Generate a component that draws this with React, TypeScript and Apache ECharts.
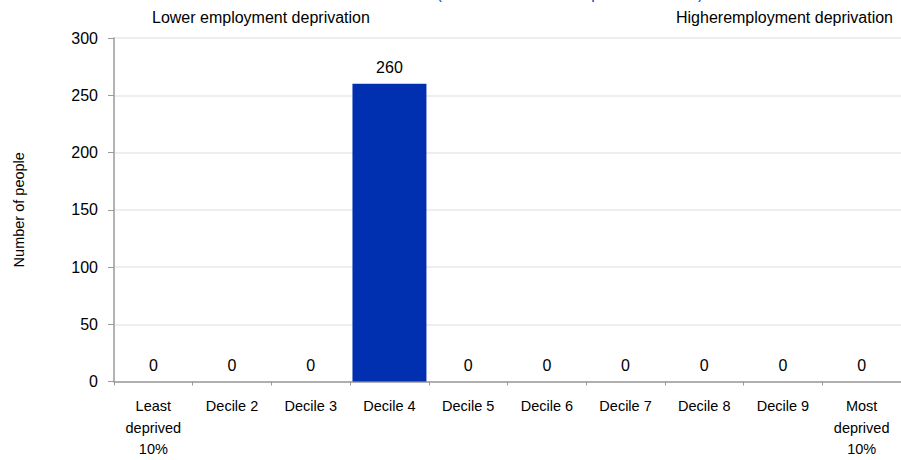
import React, { useEffect, useRef } from "react";
import * as echarts from "echarts";

const categories = [
  "Least\ndeprived\n10%",
  "Decile 2",
  "Decile 3",
  "Decile 4",
  "Decile 5",
  "Decile 6",
  "Decile 7",
  "Decile 8",
  "Decile 9",
  "Most\ndeprived\n10%",
];
const values = [0, 0, 0, 260, 0, 0, 0, 0, 0, 0];
const yTicks = { min: 0, max: 300, interval: 50 };
const leftNote = "Lower employment deprivation";
const rightNote = "Higheremployment deprivation";
const titleText = "(Residents in each deprivation decile)";
const yName = "Number of people";

const FONT = "'Liberation Sans', Arial, sans-serif";

export default function App() {
  const ref = useRef<HTMLDivElement>(null);
  useEffect(() => {
    if (!ref.current) return;
    const chart = echarts.init(ref.current, null, { renderer: "svg" });
    chart.setOption({
      animation: false,
      backgroundColor: "#ffffff",
      textStyle: { fontFamily: FONT },
      graphic: [
        {
          type: "text",
          x: 570,
          y: 1,
          style: {
            text: titleText,
            fontSize: 16,
            fill: "#1f3fbf",
            fontFamily: FONT,
            align: "center",
            verticalAlign: "bottom",
          },
        },
        {
          type: "text",
          left: 152,
          top: 9,
          style: { text: leftNote, fontSize: 16, fill: "#000", fontFamily: FONT },
        },
        {
          type: "text",
          right: 8,
          top: 9,
          style: { text: rightNote, fontSize: 16, fill: "#000", fontFamily: FONT },
        },
      ],
      grid: { left: 114, top: 38, width: 790, height: 346, containLabel: false },
      xAxis: {
        type: "category",
        data: categories,
        axisLine: { lineStyle: { color: "#9a9a9a", width: 1.5 } },
        axisTick: { show: true, length: 4, lineStyle: { color: "#9a9a9a" } },
        axisLabel: {
          color: "#000",
          fontSize: 14.5,
          lineHeight: 21.5,
          margin: 14,
          interval: 0,
          fontFamily: FONT,
        },
      },
      yAxis: {
        type: "value",
        min: yTicks.min,
        max: yTicks.max,
        interval: yTicks.interval,
        name: yName,
        nameLocation: "middle",
        nameGap: 88,
        nameRotate: 90,
        nameTextStyle: { color: "#000", fontSize: 14.5, fontFamily: FONT },
        axisLine: { show: true, lineStyle: { color: "#9a9a9a", width: 1.5 } },
        axisTick: { show: true, length: 6, lineStyle: { color: "#9a9a9a" } },
        axisLabel: { color: "#000", fontSize: 16, margin: 16, fontFamily: FONT },
        splitLine: { show: true, lineStyle: { color: "#e8e8e8", width: 1.5 } },
      },
      series: [
        {
          type: "bar",
          data: values,
          barCategoryGap: "6%",
          itemStyle: { color: "#0030b0" },
          label: {
            show: true,
            position: "top",
            distance: 8,
            color: "#000",
            fontSize: 16,
            fontFamily: FONT,
          },
        },
      ],
    });
    return () => chart.dispose();
  }, []);
  return (
    <div
      ref={ref}
      style={{ position: "absolute", left: 0, top: 0, width: 901, height: 460 }}
    />
  );
}
